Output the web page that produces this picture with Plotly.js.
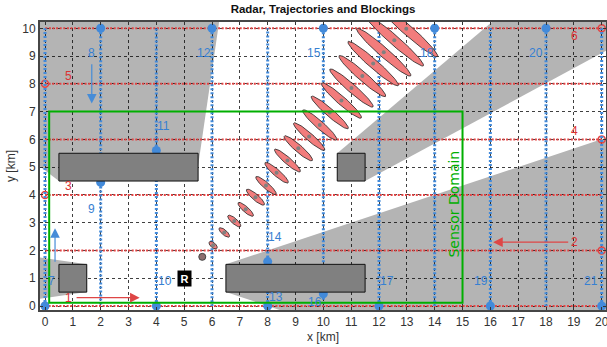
<!DOCTYPE html>
<html><head><meta charset="utf-8">
<script src="https://cdn.plot.ly/plotly-3.0.1.min.js"></script>
<style>html,body{margin:0;padding:0;background:#fff;}#chart{width:607px;height:347px;}</style>
</head><body><div id="chart"></div>
<script>
// Radar position
const radarX = 5, radarY = 1;

// Red (horizontal) trajectories
const redIds = ['1','2','3','4','5','6'];
const redY = [0, 2, 4, 6, 8, 10];
const redStartX = [0, 20, 0, 20, 0, 20];
const redEndX = [20, 0, 20, 0, 20, 0];
const redLabelX = [0.84, 19.03, 0.84, 19.03, 0.84, 19.03];
const redLabelY = [0.30, 2.31, 4.31, 6.30, 8.30, 9.73];

// Blue (vertical) trajectories
const blueIds = ['7','8','9','10','11','12','13','14','15','16','17','18','19','20','21'];
const blueX = [0, 2, 2, 4, 4, 6, 8, 8, 10, 10, 12, 14, 16, 18, 20];
const blueStartY = [0, 10, 4.45, 0, 5.6, 10, 0, 1.6, 10, 0.44, 0, 10, 0, 10, 0];
const blueEndY = [10, 5.5, 0, 4.5, 10, 0, 0.5, 10, 1.5, 0, 10, 0, 10, 0, 10];
const blueLabelX = [0.24, 1.68, 1.68, 4.31, 4.24, 5.71, 8.29, 8.28, 9.66, 9.69, 12.29, 13.73, 15.68, 17.63, 19.63];
const blueLabelY = [0.90, 9.10, 3.50, 0.90, 6.47, 9.10, 0.33, 2.49, 9.10, 0.15, 0.90, 9.10, 0.90, 9.10, 0.90];

// Direction arrows (tail -> head)
const arrowTailX = [1.08, 18.85, 0.36, 1.68];
const arrowTailY = [0.30, 2.30, 1.54, 8.76];
const arrowHeadX = [3.40, 16.10, 0.36, 1.68];
const arrowHeadY = [0.30, 2.30, 2.80, 7.29];
const arrowKind = ['red', 'red', 'blue', 'blue'];

// Obstacles
const obsX0 = [0.5, 10.5, 0.5, 6.5];
const obsX1 = [5.5, 11.5, 1.5, 11.5];
const obsY0 = [4.5, 4.5, 0.5, 0.5];
const obsY1 = [5.5, 5.5, 1.5, 1.5];

// Blocking shadows (polygon vertices)
const shadowAX = [0.5, -0.3, -0.3, 6.28, 5.42];
const shadowAY = [4.5, 5.12, 10.4, 10.4, 4.5];
const shadowBX = [10.5, 16.26, 20.5, 20.5, 11.5];
const shadowBY = [5.5, 10.4, 10.4, 9.38, 4.5];
const shadowCX = [1.5, -0.3, -0.3, 1.5];
const shadowCY = [1.5, 1.76, 0.24, 0.5];
const shadowDX = [6.5, 20.5, 20.5, 8.9, 6.5];
const shadowDY = [1.5, 6.17, -0.3, -0.3, 0.5];

// Sensor domain
const domainX = [0.15, 15];
const domainY = [0.12, 7];

// Track estimates: first plot point and uncertainty ellipses
const firstPtX = [5.65], firstPtY = [1.77];
const ellX = [6.04,6.44,6.80,7.21,7.56,7.94,8.32,8.71,9.10,9.49,9.87,10.23,10.65,11.01,11.40,11.79,12.17,12.55,12.98];
const ellY = [2.19,2.65,3.06,3.48,3.92,4.34,4.80,5.24,5.68,6.10,6.52,6.97,7.40,7.85,8.28,8.73,9.14,9.57,9.98];
const ellA = [0.18,0.24,0.30,0.36,0.42,0.48,0.55,0.61,0.67,0.74,0.81,0.88,0.95,1.03,1.11,1.20,1.29,1.39,1.50];
const ellB = [0.09,0.09,0.10,0.10,0.11,0.11,0.12,0.12,0.13,0.13,0.14,0.14,0.15,0.15,0.16,0.16,0.17,0.17,0.18];

const RED = 'rgb(226,68,68)';
const BLUE = 'rgb(66,138,218)';
const FONT = 'Liberation Sans, Arial, sans-serif';

const traces = [];
// red trajectories
for (let i = 0; i < redY.length; i++) {
  traces.push({x:[redStartX[i], redEndX[i]], y:[redY[i], redY[i]], mode:'lines',
    line:{color:RED, width:2, dash:'2px,1.6px'}, hoverinfo:'skip', showlegend:false});
}
traces.push({x:redStartX, y:redY, mode:'markers', marker:{symbol:'circle-open', size:7, color:RED, line:{width:1.5, color:RED}}, showlegend:false});
// blue trajectories
for (let i = 0; i < blueX.length; i++) {
  traces.push({x:[blueX[i], blueX[i]], y:[blueStartY[i], blueEndY[i]], mode:'lines',
    line:{color:BLUE, width:3, dash:'2px,2px'}, hoverinfo:'skip', showlegend:false});
}
traces.push({x:blueX, y:blueStartY, mode:'markers', marker:{size:9, color:BLUE}, showlegend:false});

// ellipses
for (let i = 0; i < ellX.length; i++) {
  const th = Math.atan2(ellY[i]-radarY, ellX[i]-radarX) - Math.PI/2;
  const xs = [], ys = [];
  for (let k = 0; k <= 72; k++) {
    const t = k/72*2*Math.PI;
    xs.push(ellX[i] + ellA[i]*Math.cos(th)*Math.cos(t) - ellB[i]*Math.sin(th)*Math.sin(t));
    ys.push(ellY[i] + ellA[i]*Math.sin(th)*Math.cos(t) + ellB[i]*Math.cos(th)*Math.sin(t));
  }
  traces.push({x:xs, y:ys, mode:'lines', fill:'toself', fillcolor:'rgb(242,124,124)',
    line:{color:'#222', width:0.8}, hoverinfo:'skip', showlegend:false});
}
traces.push({x:ellX, y:ellY, mode:'markers', marker:{size:4, color:'rgb(128,128,128)'}, showlegend:false});
traces.push({x:firstPtX, y:firstPtY, mode:'markers', marker:{size:7, color:'rgb(140,110,110)', line:{color:'#444', width:1}}, showlegend:false});

function polyPath(xs, ys) {
  return 'M' + xs.map((v,i)=> v + ',' + ys[i]).join(' L') + ' Z';
}
const shapes = [];
[[shadowAX,shadowAY],[shadowBX,shadowBY],[shadowCX,shadowCY],[shadowDX,shadowDY]].forEach(p => {
  shapes.push({type:'path', path:polyPath(p[0], p[1]), xref:'x', yref:'y', layer:'below',
    fillcolor:'rgb(180,180,180)', line:{width:0}});
});
for (let i = 0; i < obsX0.length; i++) {
  shapes.push({type:'rect', xref:'x', yref:'y', x0:obsX0[i], x1:obsX1[i], y0:obsY0[i], y1:obsY1[i],
    layer:'above', fillcolor:'rgb(128,128,128)', line:{color:'#111', width:1}});
}
shapes.push({type:'rect', xref:'x', yref:'y', x0:domainX[0], x1:domainX[1], y0:domainY[0], y1:domainY[1],
  layer:'above', fillcolor:'rgba(0,0,0,0)', line:{color:'rgb(0,175,0)', width:2}});

const annotations = [];
redIds.forEach((t,i) => annotations.push({x:redLabelX[i], y:redLabelY[i], text:t, showarrow:false,
  font:{family:FONT, size:12, color:'rgb(220,50,50)'}}));
blueIds.forEach((t,i) => annotations.push({x:blueLabelX[i], y:blueLabelY[i], text:t, showarrow:false,
  font:{family:FONT, size:12, color:'rgb(55,128,210)'}}));
for (let i = 0; i < arrowTailX.length; i++) {
  const c = arrowKind[i] === 'red' ? 'rgb(222,70,70)' : 'rgb(70,140,215)';
  annotations.push({x:arrowHeadX[i], y:arrowHeadY[i], ax:arrowTailX[i], ay:arrowTailY[i], axref:'x', ayref:'y',
    text:'', showarrow:true, arrowhead:2, arrowsize:1.6, arrowwidth:1.2, arrowcolor:c});
}
annotations.push({x:radarX, y:radarY, text:'<b>R</b>', showarrow:false, bgcolor:'black',
  font:{family:FONT, size:11, color:'white'}, borderpad:1, width:11, height:13});
annotations.push({x:14.7, y:3.66, text:'Sensor Domain', textangle:-90, showarrow:false,
  font:{family:'DejaVu Sans, sans-serif', size:14, color:'rgb(0,175,0)'}});

const ticks = (n) => Array.from({length:n+1}, (_, i) => i);
const layout = {
  width:607, height:347,
  margin:{l:40, r:1, t:22, b:37},
  paper_bgcolor:'white', plot_bgcolor:'white',
  title:{text:'<b>Radar, Trajectories and Blockings</b>', x:0.5, xref:'paper', y:0.974, yref:'container', yanchor:'middle',
    font:{family:FONT, size:11.5, color:'#111'}},
  xaxis:{range:[-0.18, 20.155], tickvals:ticks(20), ticktext:ticks(20).map(String), showgrid:true,
    gridcolor:'rgba(0,0,0,0.75)', griddash:'dot', gridwidth:1, zeroline:false, ticklabeloverflow:'allow',
    showline:true, linecolor:'rgb(70,70,70)', linewidth:2, mirror:'ticks', ticks:'inside', ticklen:3, tickcolor:'#333',
    tickfont:{family:FONT, size:12, color:'#333'},
    title:{text:'x [km]', font:{family:FONT, size:12, color:'#333'}, standoff:4}},
  yaxis:{range:[-0.144, 10.227], tickvals:ticks(10), ticktext:ticks(10).map(String), showgrid:true,
    gridcolor:'rgba(0,0,0,0.75)', griddash:'dot', gridwidth:1, zeroline:false,
    showline:true, linecolor:'rgb(70,70,70)', linewidth:2, mirror:'ticks', ticks:'inside', ticklen:3, tickcolor:'#333',
    tickfont:{family:FONT, size:12, color:'#333'},
    title:{text:'y [km]', font:{family:FONT, size:12, color:'#333'}, standoff:4}},
  shapes:shapes, annotations:annotations, showlegend:false
};
Plotly.newPlot('chart', traces, layout, {staticPlot:true, displayModeBar:false});
</script>
</body></html>
